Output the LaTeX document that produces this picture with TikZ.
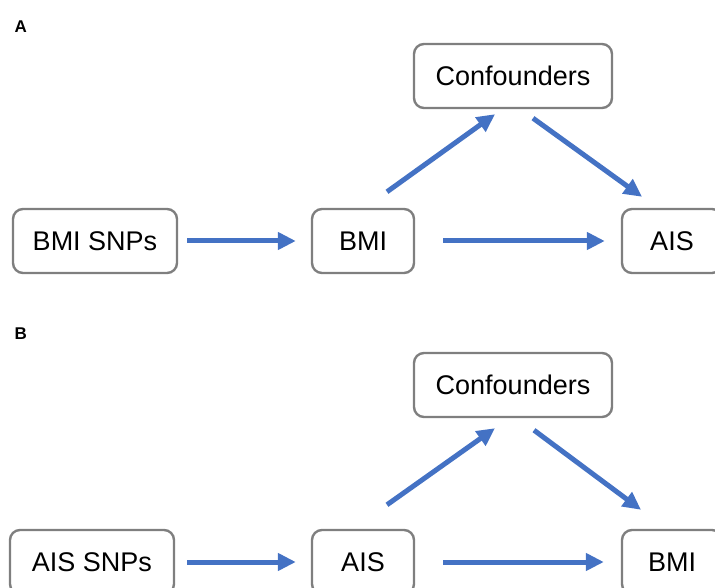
\documentclass[tikz,border=0pt]{standalone}
\usepackage{fontspec}
\setmainfont{Liberation Sans}
\usetikzlibrary{arrows.meta}
\definecolor{boxgray}{HTML}{7F7F7F}
\definecolor{arrblue}{HTML}{4472C4}
\begin{document}
\begin{tikzpicture}[
        x                       = 1pt,
        y                       = -1pt,
        box/.style              = {draw=boxgray, line width=2.4pt, rounded corners=10pt,
                                   minimum height=64pt, inner sep=0pt,
                                   font=\fontsize{27}{32}\selectfont},
        panel/.style            = {anchor=west, font=\fontsize{17}{19}\selectfont\bfseries},
        arr/.style              = {draw=arrblue, line width=5pt,
                                   -{Triangle[length=18pt, width=17pt]}},
        %sloped
      ]
        \clip (0,0) rectangle (715,588);
        % panel A
        \node[panel] (labA) at (11,27) {A};
        \node[box, minimum width=164pt] (snpA)  at (95,241)  {BMI SNPs};
        \node[box, minimum width=102pt] (bmiA)  at (363,241) {BMI};
        \node[box, minimum width=100pt] (aisA)  at (672,241) {AIS};
        \node[box, minimum width=198pt] (confA) at (513,76)  {Confounders};
        \draw[arr, shorten <=9pt, shorten >=15pt] (snpA) -- (bmiA);
        \draw[arr, shorten <=28pt, shorten >=16pt] (bmiA) -- (aisA);
        \draw[arr] ([xshift=24pt, yshift=16pt]bmiA.north) -- ([xshift=-18pt, yshift=-5pt]confA.south);
        \draw[arr] ([xshift=20pt, yshift=-9pt]confA.south) -- ([xshift=-30pt, yshift=11pt]aisA.north);
        % panel B
        \node[panel] (labB) at (11,334) {B};
        \node[box, minimum width=164pt] (snpB)  at (92,562)  {AIS SNPs};
        \node[box, minimum width=102pt] (aisB)  at (363,562) {AIS};
        \node[box, minimum width=100pt] (bmiB)  at (672,562) {BMI};
        \node[box, minimum width=198pt] (confB) at (513,385) {Confounders};
        \draw[arr, shorten <=12pt, shorten >=15pt] (snpB) -- (aisB);
        \draw[arr, shorten <=28pt, shorten >=17pt] (aisB) -- (bmiB);
        \draw[arr] ([xshift=24pt, yshift=24pt]aisB.north) -- ([xshift=-18pt, yshift=-10pt]confB.south);
        \draw[arr] ([xshift=21pt, yshift=-12pt]confB.south) -- ([xshift=-31pt, yshift=19pt]bmiB.north);
    \end{tikzpicture}
\end{document}
